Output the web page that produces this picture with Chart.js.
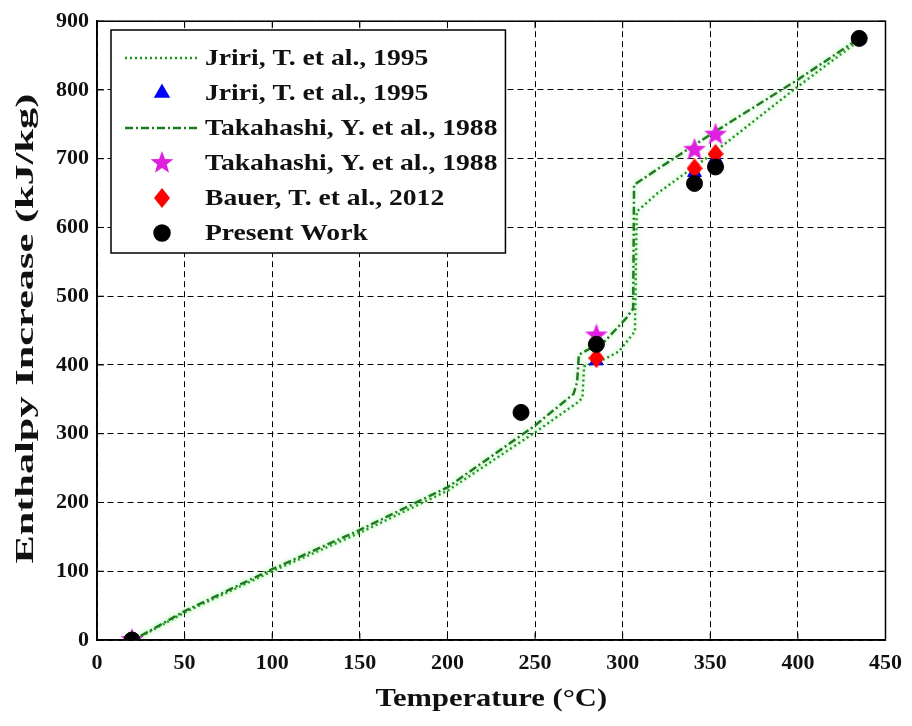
<!DOCTYPE html>
<html>
<head>
<meta charset="utf-8">
<script src="https://cdn.jsdelivr.net/npm/chart.js@4.4.1/dist/chart.umd.min.js"></script>
<style>
  html, body { margin: 0; padding: 0; background: #fff; }
  #wrap { width: 912px; height: 726px; }
</style>
</head>
<body>
<div id="wrap"><canvas id="enthalpyChart" width="912" height="726"></canvas></div>
<script>
// Chart values
const xTicks = [0, 50, 100, 150, 200, 250, 300, 350, 400, 450];
const yTicks = [0, 100, 200, 300, 400, 500, 600, 700, 800, 900];
const xTitle = "Temperature (°C)";
const yTitle = "Enthalpy Increase (kJ/kg)";

// Jriri, T. et al., 1995 (dotted curve)
const jririLineTemp = [25, 50, 100, 150, 200, 250, 274, 277, 278, 290, 298, 307, 308, 320, 350, 400, 435];
const jririLineEnth = [5, 40, 100, 156, 217, 302, 345, 352, 398, 409, 420, 449, 623, 650, 705, 805, 872];

// Jriri, T. et al., 1995 (triangles, mostly hidden)
const jririPtsTemp = [20, 285, 341, 353];
const jririPtsEnth = [0, 406, 680, 700];

// Takahashi, Y. et al., 1988 (dash-dot curve)
const takaLineTemp = [25, 50, 100, 150, 200, 250, 272, 274, 275, 280, 290, 302, 306, 306.5, 320, 350, 400, 435];
const takaLineEnth = [6, 42, 103, 160, 222, 312, 358, 375, 415, 422, 435, 468, 482, 662, 685, 735, 815, 875];

// Takahashi, Y. et al., 1988 (stars)
const takaPtsTemp = [20, 285, 341, 353];
const takaPtsEnth = [0, 443, 713, 735];

// Bauer, T. et al., 2012
const bauerTemp = [285, 341, 353];
const bauerEnth = [410, 686, 707];

// Present Work
const presentTemp = [20, 242, 285, 341, 353, 435];
const presentEnth = [0, 331, 430, 664, 688, 875];

const serif = "'Liberation Serif', 'Times New Roman', serif";

function toPoints(xs, ys) {
    return xs.map((x, i) => ({ x: x, y: ys[i] }));
}

// Filled five point star marker
function makeStar(color, r) {
    const c = document.createElement("canvas");
    c.width = c.height = r * 2 + 2;
    const ctx = c.getContext("2d");
    ctx.fillStyle = color;
    ctx.beginPath();
    for (let i = 0; i < 10; i++) {
        const rad = i % 2 === 0 ? r : r * 0.42;
        const a = -Math.PI / 2 + i * Math.PI / 5;
        ctx.lineTo(r + 1 + rad * Math.cos(a), r + 1 + rad * Math.sin(a));
    }
    ctx.closePath();
    ctx.fill();
    return c;
}

// Diamond marker, a bit taller than wide
function makeDiamond(color, w, h) {
    const c = document.createElement("canvas");
    c.width = w;
    c.height = h;
    const ctx = c.getContext("2d");
    ctx.fillStyle = color;
    ctx.beginPath();
    ctx.moveTo(w / 2, 0);
    ctx.lineTo(w, h / 2);
    ctx.lineTo(w / 2, h);
    ctx.lineTo(0, h / 2);
    ctx.closePath();
    ctx.fill();
    return c;
}

const starImg = makeStar("#e020e0", 12);
const diamondImg = makeDiamond("#ff0000", 16, 20);

// Draw a marker or line sample for the legend
function drawSample(ctx, ds, x, y) {
    ctx.save();
    if (ds.showLine) {
        ctx.strokeStyle = ds.borderColor;
        ctx.lineWidth = ds.borderWidth;
        ctx.setLineDash(ds.borderDash || []);
        ctx.beginPath();
        ctx.moveTo(x - 37, y);
        ctx.lineTo(x + 37, y);
        ctx.stroke();
    } else if (ds.pointStyle instanceof HTMLCanvasElement) {
        ctx.drawImage(ds.pointStyle, x - ds.pointStyle.width / 2, y - ds.pointStyle.height / 2);
    } else {
        ctx.fillStyle = ds.pointBackgroundColor;
        ctx.strokeStyle = ds.pointBorderColor;
        Chart.helpers.drawPoint(ctx, {
            pointStyle: ds.pointStyle,
            radius: ds.pointRadius,
            borderWidth: 1,
            rotation: 0
        }, x, y);
    }
    ctx.restore();
}

// The figure's lettering is a little wider than the font, so stretch it
const textStretch = 1.15;

// Legend box inside the plot, top left, like the MATLAB one
const boxLegend = {
    id: "boxLegend",
    afterDraw(chart) {
        const ctx = chart.ctx;
        const sets = chart.data.datasets;
        ctx.save();
        ctx.font = "bold 24px " + serif;
        let maxW = 0;
        sets.forEach(ds => { maxW = Math.max(maxW, ctx.measureText(ds.label).width * textStretch); });
        const left = 111, top = 30, rowH = 35, textX = 205;
        const right = textX + maxW + 8;
        const bottom = top + 28 + rowH * (sets.length - 1) + 20;
        ctx.fillStyle = "#fff";
        ctx.fillRect(left, top, right - left, bottom - top);
        ctx.strokeStyle = "#000";
        ctx.lineWidth = 1.5;
        ctx.strokeRect(left, top, right - left, bottom - top);
        sets.forEach((ds, i) => {
            const y = top + 28 + i * rowH;
            drawSample(ctx, ds, 162, y);
            ctx.save();
            ctx.translate(textX, y + 1);
            ctx.scale(textStretch, 1);
            ctx.fillStyle = "#111";
            ctx.textBaseline = "middle";
            ctx.fillText(ds.label, 0, 0);
            ctx.restore();
        });
        ctx.restore();
    }
};

// Axis titles, drawn stretched to match the figure
const axisTitles = {
    id: "axisTitles",
    afterDraw(chart) {
        const ctx = chart.ctx;
        const a = chart.chartArea;
        ctx.save();
        ctx.fillStyle = "#111";
        ctx.textAlign = "center";

        ctx.font = "bold 25px " + serif;
        ctx.save();
        ctx.translate((a.left + a.right) / 2, 706);
        ctx.scale(1.22, 1);
        ctx.textBaseline = "alphabetic";
        ctx.fillText(xTitle, 0, 0);
        ctx.restore();

        ctx.font = "bold 26px " + serif;
        const w = ctx.measureText(yTitle).width;
        ctx.save();
        ctx.translate(26, (a.top + a.bottom) / 2 - 2);
        ctx.rotate(-Math.PI / 2);
        ctx.scale(470 / w, 1);
        ctx.textBaseline = "middle";
        ctx.fillText(yTitle, 0, 0);
        ctx.restore();

        ctx.restore();
    }
};

// Solid frame round the plot with small inward ticks on all sides
const plotFrame = {
    id: "plotFrame",
    afterDatasetsDraw(chart) {
        const ctx = chart.ctx;
        const a = chart.chartArea;
        const xs = chart.scales.x, ys = chart.scales.y;
        ctx.save();
        ctx.strokeStyle = "#000";
        ctx.lineWidth = 1.5;
        ctx.strokeRect(a.left, a.top, a.right - a.left, a.bottom - a.top);
        ctx.lineWidth = 1;
        ctx.beginPath();
        xTicks.forEach(t => {
            const px = xs.getPixelForValue(t);
            ctx.moveTo(px, a.bottom); ctx.lineTo(px, a.bottom - 7);
            ctx.moveTo(px, a.top); ctx.lineTo(px, a.top + 7);
        });
        yTicks.forEach(t => {
            const py = ys.getPixelForValue(t);
            ctx.moveTo(a.left, py); ctx.lineTo(a.left + 7, py);
            ctx.moveTo(a.right, py); ctx.lineTo(a.right - 7, py);
        });
        ctx.stroke();
        ctx.restore();
    }
};

// Soft green glow under the curves
const lineGlow = {
    id: "lineGlow",
    beforeDatasetDraw(chart, args) {
        const ds = chart.data.datasets[args.index];
        if (ds.showLine) {
            chart.ctx.save();
            chart.ctx.shadowColor = "rgba(110, 235, 110, 0.7)";
            chart.ctx.shadowBlur = 5;
        }
    },
    afterDatasetDraw(chart, args) {
        const ds = chart.data.datasets[args.index];
        if (ds.showLine) {
            chart.ctx.restore();
        }
    }
};

const ctx = document.getElementById("enthalpyChart").getContext("2d");

new Chart(ctx, {
    type: "scatter",
    data: {
        datasets: [{
            label: "Jriri, T. et al., 1995",
            data: toPoints(jririLineTemp, jririLineEnth),
            showLine: true,
            borderColor: "#1e961e",
            borderWidth: 2.5,
            borderDash: [2, 3],
            pointRadius: 0,
            order: 6
        }, {
            label: "Jriri, T. et al., 1995",
            data: toPoints(jririPtsTemp, jririPtsEnth),
            showLine: false,
            pointStyle: "triangle",
            pointRadius: 8,
            pointBackgroundColor: "#0000ff",
            pointBorderColor: "#0000ff",
            order: 4
        }, {
            label: "Takahashi, Y. et al., 1988",
            data: toPoints(takaLineTemp, takaLineEnth),
            showLine: true,
            borderColor: "#217a21",
            borderWidth: 2.5,
            borderDash: [8, 3, 2, 3],
            pointRadius: 0,
            order: 5
        }, {
            label: "Takahashi, Y. et al., 1988",
            data: toPoints(takaPtsTemp, takaPtsEnth),
            showLine: false,
            pointStyle: starImg,
            pointRadius: 12,
            order: 3
        }, {
            label: "Bauer, T. et al., 2012",
            data: toPoints(bauerTemp, bauerEnth),
            showLine: false,
            pointStyle: diamondImg,
            pointRadius: 10,
            order: 2
        }, {
            label: "Present Work",
            data: toPoints(presentTemp, presentEnth),
            showLine: false,
            pointStyle: "circle",
            pointRadius: 8,
            pointBackgroundColor: "#000",
            pointBorderColor: "#000",
            order: 1
        }]
    },
    options: {
        responsive: false,
        animation: false,
        layout: { padding: { top: 19, right: 24, left: 0, bottom: 0 } },
        plugins: {
            legend: { display: false },
            tooltip: { enabled: false }
        },
        scales: {
            x: {
                type: "linear",
                min: 0,
                max: 450,
                afterBuildTicks: scale => { scale.ticks = xTicks.map(v => ({ value: v })); },
                afterFit: scale => { scale.height = 86; },
                ticks: {
                    color: "#111",
                    padding: 10,
                    font: { family: serif, size: 22, weight: "bold" }
                },
                grid: { color: "#000", lineWidth: 1, drawTicks: false },
                border: { display: true, color: "#000", width: 1.5, dash: [6, 4] }
            },
            y: {
                type: "linear",
                min: 0,
                max: 900,
                afterBuildTicks: scale => { scale.ticks = yTicks.map(v => ({ value: v })); },
                afterFit: scale => { scale.width = 97; },
                ticks: {
                    color: "#111",
                    padding: 8,
                    font: { family: serif, size: 22, weight: "bold" }
                },
                grid: { color: "#000", lineWidth: 1, drawTicks: false },
                border: { display: true, color: "#000", width: 1.5, dash: [6, 4] }
            }
        }
    },
    plugins: [lineGlow, plotFrame, boxLegend, axisTitles]
});
</script>
</body>
</html>
